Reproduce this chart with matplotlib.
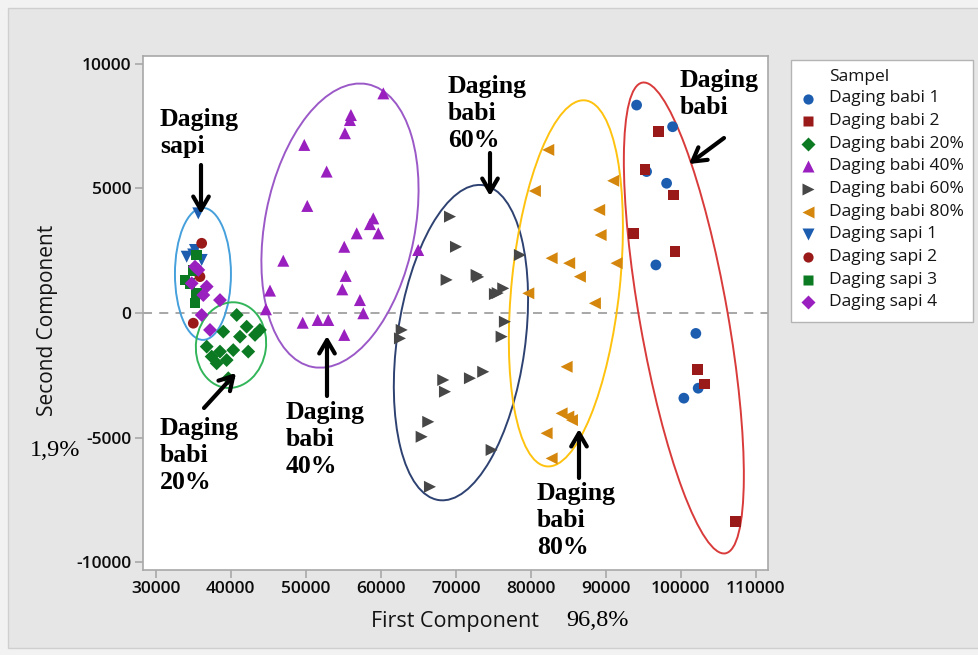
import matplotlib
matplotlib.use("Agg")
import matplotlib.pyplot as plt
from matplotlib.patches import Ellipse, Rectangle, FancyArrowPatch
from matplotlib.lines import Line2D
from matplotlib.transforms import ScaledTranslation

# ---- PCA scores per sample group (First Component, Second Component) ----
babi1_x = [94120, 98920, 95450, 98120, 96690, 102020, 102330, 100420]
babi1_y = [8350, 7480, 5680, 5210, 1930, -820, -3020, -3420]

babi2_x = [96990, 95230, 99000, 93670, 99230, 102200, 103130, 107260]
babi2_y = [7280, 5770, 4740, 3200, 2460, -2260, -2850, -8380]

babi20_x = [40800, 39010, 42130, 43240, 36800, 38570, 40340, 42340, 38130,
            39460, 37460, 39680, 41240, 43900]
babi20_y = [-80, -750, -550, -880, -1350, -1550, -1490, -1550, -2020,
            -1890, -1750, -2620, -950, -680]

babi40_x = [60350, 56030, 55900, 55230, 49810, 52790, 50210, 59010, 58570,
            59680, 56800, 55140, 47010, 55330, 54880, 57230, 45240, 44700,
            57680, 49600, 51600, 53010, 55140, 65000]
babi40_y = [8820, 7950, 7750, 7220, 6750, 5680, 4300, 3800, 3570,
            3200, 3200, 2660, 2100, 1490, 950, 520, 900, 150,
            -10, -390, -280, -280, -880, 2530]

babi60_x = [69240, 70040, 68790, 72790, 73000, 75230, 75600, 76340, 78560,
            76560, 76120, 62800, 62570, 68340, 68570, 71900, 73670, 66340,
            65460, 74790, 66570]
babi60_y = [3870, 2660, 1330, 1530, 1450, 760, 800, 990, 2330,
            -350, -950, -680, -1020, -2690, -3160, -2620, -2360, -4370,
            -4970, -5500, -6980]

babi80_x = [82340, 91000, 80560, 89130, 89320, 82790, 85130, 86560, 91450,
            79680, 88560, 84790, 84120, 85010, 85500, 82120, 82790]
babi80_y = [6550, 5310, 4900, 4140, 3130, 2200, 2000, 1460, 2000,
            790, 390, -2160, -4030, -4160, -4300, -4830, -5840]

sapi1_x = [35680, 34130, 35240, 36130, 35000]
sapi1_y = [4000, 2260, 2530, 2130, 2350]

sapi2_x = [36130, 35010, 35900, 35500]
sapi2_y = [2800, -410, 1460, 1700]

sapi3_x = [33900, 35460, 35460, 35240, 34570, 35000]
sapi3_y = [1330, 2330, 790, 400, 1190, 1700]

sapi4_x = [35240, 34800, 36800, 36350, 38570, 36130, 37240, 35680]
sapi4_y = [1860, 1190, 1060, 720, 520, -80, -680, 1730]

groups = [
    ("Daging babi 1",   babi1_x,  babi1_y,  "o", "#1c5db0", 60),
    ("Daging babi 2",   babi2_x,  babi2_y,  "s", "#9a1a1a", 60),
    ("Daging babi 20%", babi20_x, babi20_y, "D", "#0b7a22", 50),
    ("Daging babi 40%", babi40_x, babi40_y, "^", "#9a1fbf", 75),
    ("Daging babi 60%", babi60_x, babi60_y, ">", "#474747", 75),
    ("Daging babi 80%", babi80_x, babi80_y, "<", "#d4870c", 75),
    ("Daging sapi 1",   sapi1_x,  sapi1_y,  "v", "#1c5db0", 75),
    ("Daging sapi 2",   sapi2_x,  sapi2_y,  "o", "#9a1a1a", 60),
    ("Daging sapi 3",   sapi3_x,  sapi3_y,  "s", "#0b7a22", 60),
    ("Daging sapi 4",   sapi4_x,  sapi4_y,  "D", "#9a1fbf", 50),
]

xticks = [30000, 40000, 50000, 60000, 70000, 80000, 90000, 100000, 110000]
yticks = [-10000, -5000, 0, 5000, 10000]

W, H = 979, 655
fig = plt.figure(figsize=(W / 100, H / 100), dpi=100)
fig.patch.set_facecolor("#f2f2f2")


def fx(px):
    return px / W


def fy(py):
    return 1 - py / H


# grey panel behind the graph
fig.add_artist(Rectangle((fx(8), fy(648)), fx(W) - fx(8), fy(8) - fy(648),
                         transform=fig.transFigure, facecolor="#e6e6e6",
                         edgecolor="#cfcfcf", lw=1.0, zorder=0))

ax = fig.add_axes([fx(142.5), fy(569.5), fx(768) - fx(142.5), fy(55.7) - fy(569.5)])
ax.set_facecolor("white")
ax.set_xlim(28240, 111640)
ax.set_ylim(-10301, 10333)

for sp in ax.spines.values():
    sp.set_color("#a8a8a8")
    sp.set_linewidth(1.2)

ax.set_xticks(xticks)
ax.set_yticks(yticks)
ax.set_xticklabels([str(t) for t in xticks])
ax.set_yticklabels([str(t) for t in yticks])
ax.tick_params(direction="out", length=6, width=1.2, color="#a8a8a8",
               labelcolor="#0c0c0c", labelsize=12.5, pad=2)
for lab in ax.get_xticklabels() + ax.get_yticklabels():
    lab.set_family("Open Sans")
    lab.set_weight("semibold")

ax.axhline(0, color="#a0a0a0", lw=1.3, ls=(0, (5, 4)), zorder=1)

for name, xs, ys, mk, col, s in groups:
    ax.scatter(xs, ys, marker=mk, s=s, c=col, edgecolors="none", zorder=3)

# cluster outlines: data centre, half-lengths in px (major, minor), tilt in degrees
clusters = [
    ((36300, 1570),   66, 28,   0, "#45a0dc"),
    ((40040, -1290),  43, 35,  -8, "#33b55a"),
    ((54570, 3510),  144, 75, -11, "#9b59c8"),
    ((70700, -1190), 159, 64,  -8, "#2e4272"),
    ((84690, 1190),  184, 54,  -6, "#ffc20e"),
    ((100420, -200), 239, 44,  10, "#d93b3b"),
]
for (cx, cy), a, b, ang, col in clusters:
    tr = fig.dpi_scale_trans + ScaledTranslation(cx, cy, ax.transData)
    ax.add_patch(Ellipse((0, 0), 2 * b / 100, 2 * a / 100, angle=ang,
                         transform=tr, fill=False, edgecolor=col, lw=1.4,
                         zorder=2, clip_on=False))

# axis titles
fig.text(fx(455), fy(622), "First Component", ha="center", va="center",
         fontsize=15.5, family="Open Sans", color="#141414")
fig.text(fx(48), fy(320), "Second Component", ha="center", va="center",
         rotation=90, fontsize=15, family="Open Sans", color="#141414")
fig.text(fx(598), fy(620), "96,8%", ha="center", va="center",
         fontsize=17.5, family="Liberation Serif", color="black")
fig.text(fx(55), fy(451), "1,9%", ha="center", va="center",
         fontsize=17.5, family="Liberation Serif", color="black")

# group labels with arrows
labels = [
    ("Daging\nsapi",         (160, 108), ((201, 165), (201, 214))),
    ("Daging\nbabi\n20%",    (160, 417), ((204, 408), (236, 373))),
    ("Daging\nbabi\n40%",    (286, 401), ((327, 396), (327, 336))),
    ("Daging\nbabi\n60%",    (448, 75),  ((490, 153), (490, 196))),
    ("Daging\nbabi\n80%",    (537, 482), ((579, 478), (579, 429))),
    ("Daging\nbabi",         (680, 69),  ((724, 138), (689, 164))),
]
for txt, (tx, ty), (p0, p1) in labels:
    fig.text(fx(tx), fy(ty), txt, ha="left", va="top", fontsize=18.5,
             family="Liberation Serif", weight="bold", linespacing=1.22,
             color="black")
    fig.add_artist(FancyArrowPatch((fx(p0[0]), fy(p0[1])), (fx(p1[0]), fy(p1[1])),
                                   transform=fig.transFigure,
                                   arrowstyle="->,head_length=6,head_width=3.5",
                                   mutation_scale=1.6, lw=3, color="black",
                                   shrinkA=0, shrinkB=0, zorder=6))

# legend panel
fig.add_artist(Rectangle((fx(791), fy(322)), fx(973) - fx(791), fy(60) - fy(322),
                         transform=fig.transFigure, facecolor="white",
                         edgecolor="#b4b4b4", lw=1.0, zorder=4))
fig.text(fx(829), fy(77), "Sampel", ha="left", va="center", fontsize=12.5,
         family="Open Sans", color="#141414", zorder=5)
for i, (name, xs, ys, mk, col, s) in enumerate(groups):
    yy = 98.5 + 22.65 * i
    fig.add_artist(Line2D([fx(808)], [fy(yy)], transform=fig.transFigure,
                          marker=mk, markersize=(s ** 0.5) * 0.95, color=col,
                          markeredgecolor="none", linestyle="none", zorder=5))
    fig.text(fx(829), fy(yy), name, ha="left", va="center", fontsize=12.5,
             family="Open Sans", color="#141414", zorder=5)

fig.savefig("out.png", dpi=100, facecolor=fig.get_facecolor())
